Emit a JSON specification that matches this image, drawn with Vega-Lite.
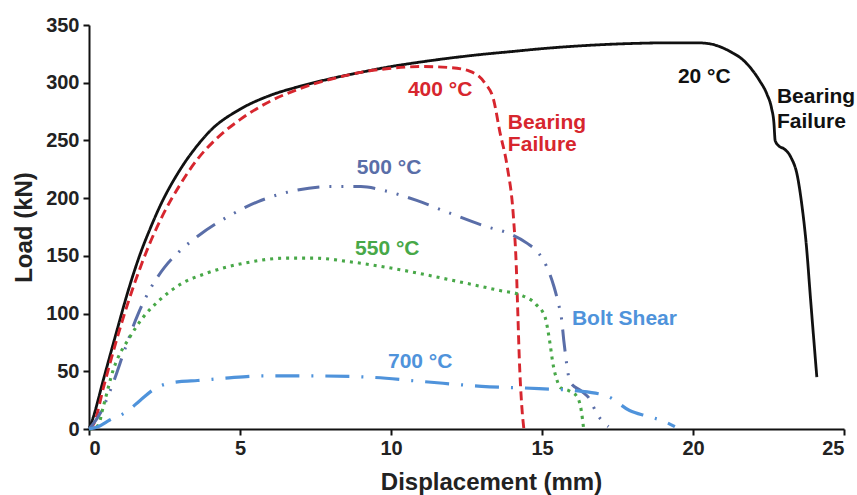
{
  "$schema": "https://vega.github.io/schema/vega-lite/v6.json",
  "width": 755,
  "height": 404,
  "autosize": {"type": "none"},
  "padding": {"left": 89, "top": 25, "right": 13, "bottom": 66},
  "background": "white",
  "config": {
    "view": {"stroke": null},
    "font": "Liberation Sans",
    "axis": {
      "grid": false,
      "domainColor": "#111",
      "domainWidth": 2,
      "tickColor": "#111",
      "tickWidth": 2,
      "tickSize": 6,
      "labelFont": "Liberation Sans",
      "labelFontWeight": "bold",
      "labelFontSize": 20,
      "labelColor": "#222",
      "titleFont": "Liberation Sans",
      "titleFontWeight": "bold",
      "titleFontSize": 24,
      "titleColor": "#222"
    }
  },
  "datasets": {
    "curves": [
      {"series": "20 °C", "x": 0, "y": 0}, {"series": "20 °C", "x": 0.1, "y": 7}, {"series": "20 °C", "x": 0.5, "y": 45}, {"series": "20 °C", "x": 0.9, "y": 83}, {"series": "20 °C", "x": 1.3, "y": 120}, {"series": "20 °C", "x": 1.7, "y": 152}, {"series": "20 °C", "x": 2.0, "y": 172}, {"series": "20 °C", "x": 2.35, "y": 193}, {"series": "20 °C", "x": 3.0, "y": 224}, {"series": "20 °C", "x": 3.6, "y": 246}, {"series": "20 °C", "x": 4.0, "y": 258}, {"series": "20 °C", "x": 5, "y": 277}, {"series": "20 °C", "x": 6, "y": 289}, {"series": "20 °C", "x": 7, "y": 297}, {"series": "20 °C", "x": 8, "y": 303.5}, {"series": "20 °C", "x": 9, "y": 309}, {"series": "20 °C", "x": 10, "y": 314}, {"series": "20 °C", "x": 11, "y": 318}, {"series": "20 °C", "x": 12, "y": 321.5}, {"series": "20 °C", "x": 13, "y": 324.5}, {"series": "20 °C", "x": 14, "y": 327}, {"series": "20 °C", "x": 15, "y": 329.5}, {"series": "20 °C", "x": 16, "y": 331.5}, {"series": "20 °C", "x": 17, "y": 333}, {"series": "20 °C", "x": 18, "y": 334}, {"series": "20 °C", "x": 19, "y": 334.5}, {"series": "20 °C", "x": 20.2, "y": 334.5}, {"series": "20 °C", "x": 20.6, "y": 333.5}, {"series": "20 °C", "x": 21.0, "y": 330}, {"series": "20 °C", "x": 21.3, "y": 326}, {"series": "20 °C", "x": 21.6, "y": 321}, {"series": "20 °C", "x": 21.9, "y": 313}, {"series": "20 °C", "x": 22.2, "y": 302}, {"series": "20 °C", "x": 22.45, "y": 290}, {"series": "20 °C", "x": 22.6, "y": 278}, {"series": "20 °C", "x": 22.68, "y": 265}, {"series": "20 °C", "x": 22.72, "y": 250}, {"series": "20 °C", "x": 22.85, "y": 245}, {"series": "20 °C", "x": 23.0, "y": 243}, {"series": "20 °C", "x": 23.25, "y": 235}, {"series": "20 °C", "x": 23.45, "y": 220}, {"series": "20 °C", "x": 23.6, "y": 195}, {"series": "20 °C", "x": 23.75, "y": 160}, {"series": "20 °C", "x": 23.9, "y": 110}, {"series": "20 °C", "x": 24.1, "y": 45},

      {"series": "400 °C", "x": 0, "y": 0}, {"series": "400 °C", "x": 0.15, "y": 4}, {"series": "400 °C", "x": 0.5, "y": 38}, {"series": "400 °C", "x": 0.9, "y": 76}, {"series": "400 °C", "x": 1.3, "y": 110}, {"series": "400 °C", "x": 1.7, "y": 140}, {"series": "400 °C", "x": 2.0, "y": 160}, {"series": "400 °C", "x": 2.4, "y": 183}, {"series": "400 °C", "x": 3.0, "y": 211}, {"series": "400 °C", "x": 3.6, "y": 234}, {"series": "400 °C", "x": 4.2, "y": 251}, {"series": "400 °C", "x": 5, "y": 268}, {"series": "400 °C", "x": 6, "y": 284}, {"series": "400 °C", "x": 7, "y": 295}, {"series": "400 °C", "x": 8, "y": 303}, {"series": "400 °C", "x": 9, "y": 309}, {"series": "400 °C", "x": 10, "y": 312.5}, {"series": "400 °C", "x": 11, "y": 314}, {"series": "400 °C", "x": 12, "y": 313}, {"series": "400 °C", "x": 12.6, "y": 310}, {"series": "400 °C", "x": 13.1, "y": 300}, {"series": "400 °C", "x": 13.4, "y": 285}, {"series": "400 °C", "x": 13.6, "y": 258}, {"series": "400 °C", "x": 13.85, "y": 227}, {"series": "400 °C", "x": 14.05, "y": 185}, {"series": "400 °C", "x": 14.15, "y": 140}, {"series": "400 °C", "x": 14.2, "y": 100}, {"series": "400 °C", "x": 14.25, "y": 60}, {"series": "400 °C", "x": 14.33, "y": 20}, {"series": "400 °C", "x": 14.4, "y": 0},

      {"series": "500 °C", "x": 0, "y": 0}, {"series": "500 °C", "x": 0.4, "y": 15}, {"series": "500 °C", "x": 0.8, "y": 40}, {"series": "500 °C", "x": 1.2, "y": 70}, {"series": "500 °C", "x": 1.6, "y": 98}, {"series": "500 °C", "x": 2.0, "y": 120}, {"series": "500 °C", "x": 2.5, "y": 140}, {"series": "500 °C", "x": 3.0, "y": 154}, {"series": "500 °C", "x": 3.6, "y": 167}, {"series": "500 °C", "x": 4.6, "y": 184}, {"series": "500 °C", "x": 5.6, "y": 197}, {"series": "500 °C", "x": 6.9, "y": 207}, {"series": "500 °C", "x": 8, "y": 210}, {"series": "500 °C", "x": 9, "y": 210}, {"series": "500 °C", "x": 9.7, "y": 207}, {"series": "500 °C", "x": 10.85, "y": 198}, {"series": "500 °C", "x": 11.95, "y": 187}, {"series": "500 °C", "x": 13.2, "y": 175}, {"series": "500 °C", "x": 13.85, "y": 170}, {"series": "500 °C", "x": 14.5, "y": 161}, {"series": "500 °C", "x": 14.9, "y": 152}, {"series": "500 °C", "x": 15.15, "y": 141}, {"series": "500 °C", "x": 15.4, "y": 123}, {"series": "500 °C", "x": 15.55, "y": 108}, {"series": "500 °C", "x": 15.65, "y": 95}, {"series": "500 °C", "x": 15.72, "y": 77}, {"series": "500 °C", "x": 15.78, "y": 64}, {"series": "500 °C", "x": 15.85, "y": 50}, {"series": "500 °C", "x": 15.95, "y": 40}, {"series": "500 °C", "x": 16.3, "y": 33}, {"series": "500 °C", "x": 16.6, "y": 25}, {"series": "500 °C", "x": 16.8, "y": 14}, {"series": "500 °C", "x": 17.2, "y": 2},

      {"series": "550 °C", "x": 0, "y": 0}, {"series": "550 °C", "x": 0.3, "y": 3}, {"series": "550 °C", "x": 0.47, "y": 19}, {"series": "550 °C", "x": 0.8, "y": 51}, {"series": "550 °C", "x": 1.36, "y": 80}, {"series": "550 °C", "x": 1.8, "y": 97}, {"series": "550 °C", "x": 2.35, "y": 112}, {"series": "550 °C", "x": 3.0, "y": 125}, {"series": "550 °C", "x": 3.9, "y": 135}, {"series": "550 °C", "x": 5.2, "y": 144}, {"series": "550 °C", "x": 6.5, "y": 148}, {"series": "550 °C", "x": 7.5, "y": 148}, {"series": "550 °C", "x": 8.6, "y": 145}, {"series": "550 °C", "x": 10.3, "y": 138}, {"series": "550 °C", "x": 12.0, "y": 129}, {"series": "550 °C", "x": 13.6, "y": 120}, {"series": "550 °C", "x": 14.3, "y": 116}, {"series": "550 °C", "x": 14.8, "y": 108}, {"series": "550 °C", "x": 15.1, "y": 97}, {"series": "550 °C", "x": 15.26, "y": 75}, {"series": "550 °C", "x": 15.36, "y": 57}, {"series": "550 °C", "x": 15.5, "y": 42}, {"series": "550 °C", "x": 15.6, "y": 36}, {"series": "550 °C", "x": 15.9, "y": 33}, {"series": "550 °C", "x": 16.16, "y": 28}, {"series": "550 °C", "x": 16.3, "y": 16}, {"series": "550 °C", "x": 16.38, "y": 0},

      {"series": "700 °C", "x": 0, "y": 0}, {"series": "700 °C", "x": 0.3, "y": 2}, {"series": "700 °C", "x": 0.7, "y": 8}, {"series": "700 °C", "x": 1.25, "y": 15}, {"series": "700 °C", "x": 1.7, "y": 25}, {"series": "700 °C", "x": 2.25, "y": 36}, {"series": "700 °C", "x": 3.0, "y": 41}, {"series": "700 °C", "x": 3.6, "y": 42}, {"series": "700 °C", "x": 4.5, "y": 44}, {"series": "700 °C", "x": 5.7, "y": 46}, {"series": "700 °C", "x": 7.3, "y": 46}, {"series": "700 °C", "x": 9.2, "y": 45}, {"series": "700 °C", "x": 11.1, "y": 41}, {"series": "700 °C", "x": 13.0, "y": 37}, {"series": "700 °C", "x": 14.9, "y": 35}, {"series": "700 °C", "x": 16.2, "y": 33}, {"series": "700 °C", "x": 17.2, "y": 28}, {"series": "700 °C", "x": 17.9, "y": 16}, {"series": "700 °C", "x": 18.5, "y": 11}, {"series": "700 °C", "x": 19.0, "y": 7}, {"series": "700 °C", "x": 19.4, "y": 2}
    ],
    "labels": [
      {"series": "20 °C", "x": 19.5, "y": 305, "text": "20 °C"},
      {"series": "20 °C", "x": 22.78, "y": 288, "text": "Bearing"},
      {"series": "20 °C", "x": 22.78, "y": 266, "text": "Failure"},
      {"series": "400 °C", "x": 10.56, "y": 294, "text": "400 °C"},
      {"series": "400 °C", "x": 13.87, "y": 265, "text": "Bearing"},
      {"series": "400 °C", "x": 13.87, "y": 246, "text": "Failure"},
      {"series": "500 °C", "x": 8.87, "y": 226, "text": "500 °C"},
      {"series": "550 °C", "x": 8.81, "y": 156, "text": "550 °C"},
      {"series": "700 °C", "x": 9.9, "y": 58, "text": "700 °C"},
      {"series": "700 °C", "x": 15.99, "y": 95, "text": "Bolt Shear"}
    ]
  },
  "layer": [
    {
      "data": {"name": "curves"},
      "mark": {"type": "line", "interpolate": "monotone", "strokeCap": "butt"},
      "encoding": {
        "x": {
          "field": "x", "type": "quantitative",
          "scale": {"domain": [0, 25], "nice": false},
          "axis": {"values": [0, 5, 10, 15, 20, 25], "title": "Displacement (mm)", "titlePadding": 12, "titleX": 402, "labelPadding": 3}
        },
        "y": {
          "field": "y", "type": "quantitative",
          "scale": {"domain": [0, 350], "nice": false},
          "axis": {"values": [0, 50, 100, 150, 200, 250, 300, 350], "title": "Load (kN)", "titlePadding": 9, "labelPadding": 4}
        },
        "color": {
          "field": "series", "type": "nominal",
          "scale": {"domain": ["20 °C", "400 °C", "500 °C", "550 °C", "700 °C"], "range": ["#111111", "#d7262e", "#5a6ea8", "#48a848", "#4f93db"]},
          "legend": null
        },
        "strokeDash": {
          "field": "series", "type": "nominal",
          "scale": {"domain": ["20 °C", "400 °C", "500 °C", "550 °C", "700 °C"], "range": [[1, 0], [9, 5], [22, 10, 2, 10, 2, 10], [3, 5], [24, 12, 2, 12]]},
          "legend": null
        },
        "strokeWidth": {
          "field": "series", "type": "nominal",
          "scale": {"domain": ["20 °C", "400 °C", "500 °C", "550 °C", "700 °C"], "range": [2.8, 3.2, 3, 3, 3]},
          "legend": null
        }
      }
    },
    {
      "data": {"name": "labels"},
      "mark": {"type": "text", "align": "left", "baseline": "middle", "fontWeight": "bold", "fontSize": 21, "font": "Liberation Sans"},
      "encoding": {
        "x": {"field": "x", "type": "quantitative"},
        "y": {"field": "y", "type": "quantitative"},
        "text": {"field": "text"},
        "color": {"field": "series", "type": "nominal", "legend": null}
      }
    }
  ]
}
